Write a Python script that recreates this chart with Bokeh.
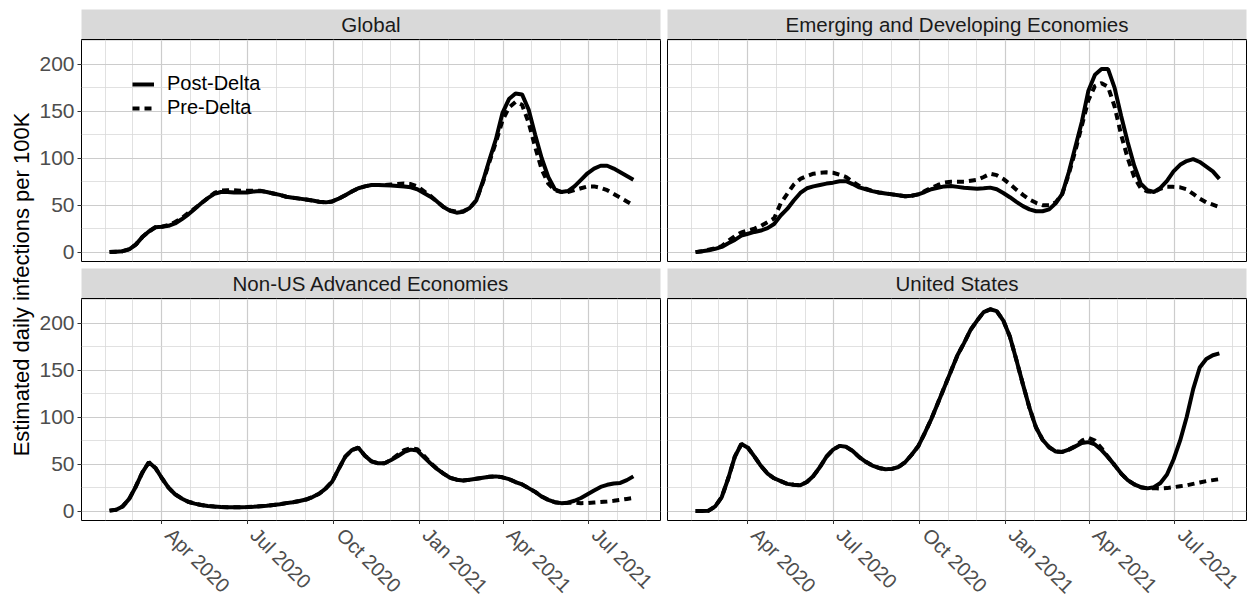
import math
import pandas as pd
from bokeh.plotting import figure
from bokeh.layouts import row, column
from bokeh.models import (Range1d, LinearAxis, Grid, FixedTicker,
                          Label, Legend, LegendItem, ColumnDataSource)
from bokeh.embed import file_html
from bokeh.resources import INLINE

# ---------------- data ----------------
dates = pd.date_range("2020-02-05", periods=81, freq="7D")

panel_titles = ["Global", "Emerging and Developing Economies",
                "Non-US Advanced Economies", "United States"]
series_labels = ["Post-Delta", "Pre-Delta"]

global_post = [0, 0.5, 1, 3, 8, 16, 22, 26.5, 27, 28,
               30.5, 35, 40, 46, 52, 57.5, 62, 64, 64, 63.6,
               63.5, 63.6, 64.5, 65, 64, 62.5, 61, 59, 58, 57,
               56, 55, 53.6, 53, 54, 57, 60.5, 64.5, 68, 70,
               71.5, 71.5, 71.3, 71, 70.5, 70, 69, 67, 63, 59,
               54, 48, 44, 42, 43, 47, 55, 75, 98, 120,
               148, 163, 169, 168, 152, 125, 100, 80, 67, 64,
               65, 70, 77, 84, 89, 92, 92, 89, 85, 81, 77]
global_pre = [0, 0.5, 1, 3, 8, 16, 22, 26.5, 27, 29,
              32, 36, 41.5, 46.5, 52, 57.5, 63, 65.5, 66, 66,
              65.5, 65.5, 65.5, 65.5, 64, 62.5, 61, 59, 58, 57,
              56, 55, 53.6, 53, 54, 57, 60.5, 64.5, 68, 70,
              71.5, 71.5, 71.5, 72, 72.5, 73, 72.5, 70, 65, 60,
              54, 48, 44.5, 43, 43.5, 47, 55, 74, 96, 117,
              140, 154, 160, 157, 138, 112, 88, 73, 66, 64,
              64, 66, 68, 70, 70, 68.5, 66, 62, 58, 54, 50]

em_post = [0, 1, 2, 3.5, 5.5, 9.5, 13, 17.5, 19.6, 21.5,
           23, 25.5, 30, 39, 46, 55, 63, 68, 70, 71.5,
           73, 74, 75.5, 75.5, 72.5, 69, 67, 65, 63.5, 62.5,
           61.5, 60.5, 59.5, 60, 61.5, 64, 67, 68.5, 70, 70.5,
           69.5, 68.5, 68, 67.5, 68, 68.7, 67, 63, 58.5, 53.5,
           49, 45.5, 43.5, 43.5, 45.5, 52, 62, 85, 112, 139,
           172, 189, 195, 195, 175, 145, 117, 92, 73, 66,
           64, 68.5, 76, 86, 93, 97, 99, 96, 91, 86, 78]
em_pre = [0, 1, 2.5, 4, 6.5, 12, 17, 21, 23, 25,
          28, 32, 36, 52, 62, 72, 78, 81, 83.5, 84.5,
          85, 84.5, 82.5, 80, 75, 70.5, 67.5, 65, 63.5, 62.5,
          61.5, 60.5, 59.5, 60, 61.5, 65, 68.5, 71.5, 74, 75,
          75, 75, 76, 77, 80, 83.5, 82, 78, 72.5, 66.5,
          61, 56, 52.5, 50, 50, 53, 62, 83, 108, 135,
          162, 177, 180, 176, 155, 125, 100, 80, 68, 64.5,
          64, 67.5, 69.5, 69.5, 69, 67, 62, 57, 53, 50.5, 48]

nonus_post = [0.5, 1.5, 5, 13, 26, 41, 52, 46, 35, 25,
              18, 13.5, 10, 8, 6.5, 5.5, 4.8, 4.3, 4, 4,
              4, 4.3, 4.7, 5.2, 5.7, 6.5, 7.3, 8.5, 9.5, 10.8,
              12.3, 15, 18.5, 24, 31.5, 45, 58, 65, 67.5, 59,
              53, 51, 51, 54.5, 58.5, 63, 65.5, 64.5, 57.5, 51,
              45, 40, 35.5, 33.5, 32.7, 33.5, 34.5, 35.5, 36.5, 37,
              36, 34, 31, 28.5, 24.5, 20.5, 15.5, 12, 9.5, 8.5,
              9, 11, 14, 18, 22, 25.8, 28, 29.5, 30, 33, 37]
nonus_pre = [0.5, 1.5, 5, 13, 26, 41, 52, 46, 35, 25,
             18, 13.5, 10, 8, 6.5, 5.5, 4.8, 4.3, 4, 4,
             4, 4.3, 4.7, 5.2, 5.7, 6.5, 7.3, 8.5, 9.5, 10.8,
             12.3, 15, 18.5, 24, 31.5, 45, 58, 65, 67.5, 59,
             53, 51, 51, 54.5, 60, 65, 67, 66, 59, 51.5,
             45, 40, 35.5, 33.5, 32.7, 33.5, 34.5, 35.5, 36.5, 37,
             36, 34, 31, 28.5, 24.5, 20.5, 15.5, 12, 9.5, 8.5,
             9, 9, 8.5, 8.7, 9.2, 9.7, 10.3, 11, 12, 13, 14]

us_post = [0, 0, 0.5, 5, 15, 35, 58, 71.5, 67.5, 58,
           48, 40, 35, 32, 29, 28, 27.5, 31, 37.5, 47,
           58, 65.5, 69.5, 68.5, 64, 57.5, 52.5, 48.5, 46, 44.6,
           45, 47, 52, 60, 69, 83, 98, 115, 132, 149,
           166, 179, 193, 203, 212, 215, 213, 203, 186, 161,
           135, 110, 89, 76, 68, 63.5, 63, 65.5, 69, 72.5,
           73.5, 71, 65, 57.5, 49, 40, 33, 28.5, 25.5, 24.2,
           25.5, 30, 39, 55, 75, 100, 130, 153, 162, 166, 168]
us_pre = [0, 0, 0.5, 5, 15, 35, 58, 71.5, 67.5, 58,
          48, 40, 35, 32, 29, 28, 27.5, 31, 37.5, 47,
          58, 65.5, 69.5, 68.5, 64, 57.5, 52.5, 48.5, 46, 44.6,
          45, 47, 52, 60, 69, 83, 98, 115, 132, 149,
          166, 179, 193, 203, 212, 215, 213, 203, 186, 161,
          135, 110, 89, 76, 68, 63.5, 63, 65.5, 69, 75,
          78, 75, 67, 57.5, 49, 40, 33, 28.5, 25.5, 24.2,
          24.5, 24, 24.5, 25.5, 26.5, 27.5, 29, 30.5, 32, 33, 34]

x_major_dates = ["2020-04-01", "2020-07-01", "2020-10-01",
                 "2021-01-01", "2021-04-01", "2021-07-01"]
x_major_labels = ["Apr 2020", "Jul 2020", "Oct 2020",
                  "Jan 2021", "Apr 2021", "Jul 2021"]
x_minor_dates = ["2020-01-01", "2020-02-01", "2020-03-01", "2020-05-01", "2020-06-01",
                 "2020-08-01", "2020-09-01", "2020-11-01", "2020-12-01",
                 "2021-02-01", "2021-03-01", "2021-05-01", "2021-06-01",
                 "2021-08-01", "2021-09-01"]
y_major = [0, 50, 100, 150, 200]
y_minor = [25, 75, 125, 175, 225]

# ---------------- style ----------------
FONT = "Liberation Sans"
X_START = pd.Timestamp("2020-01-06")
X_END = pd.Timestamp("2021-09-16")
Y_START, Y_END = -10, 226.5
FRAME_W, FRAME_H = 579, 222
LEFT_B = 44
TICK = 4
XLAB_H = 72
LINE_W = 4


def ms(d):
    return pd.Timestamp(d).value / 1e6


x_major_ms = [ms(d) for d in x_major_dates]
x_minor_ms = [ms(d) for d in x_minor_dates]


def bare(**kw):
    f = figure(x_axis_location=None, y_axis_location=None,
               toolbar_location=None, output_backend="svg", **kw)
    f.center = []          # drop default grids
    return f


def make_strip(title, left, top):
    s = bare(frame_width=FRAME_W, frame_height=30,
             x_range=Range1d(0, 1), y_range=Range1d(0, 1),
             min_border_left=LEFT_B if left else 4, min_border_right=3 if left else 1,
             min_border_top=9 if top else 0, min_border_bottom=0,
             background_fill_color="#d9d9d9", border_fill_color="white",
             outline_line_color=None)
    s.add_layout(Label(x=0.5, y=0.5, text=title, text_align="center",
                       text_baseline="middle", text_font=FONT,
                       text_font_size="20.5px", text_color="#1a1a1a"))
    return s


def make_xlabels(left):
    """Rotated date labels under a bottom panel (same x scale as the panel)."""
    f = bare(frame_width=FRAME_W, frame_height=XLAB_H,
             x_range=Range1d(X_START, X_END), y_range=Range1d(XLAB_H, 0),
             min_border_left=LEFT_B if left else 4, min_border_right=3 if left else 1,
             min_border_top=0, min_border_bottom=0,
             background_fill_color="white", border_fill_color="white",
             outline_line_color=None)
    for d, lab in zip(x_major_dates, x_major_labels):
        f.add_layout(Label(x=ms(d), y=11 - TICK, x_offset=7,
                           text=lab, angle=-math.pi / 4,
                           text_align="left", text_baseline="middle",
                           text_font=FONT, text_font_size="20px",
                           text_color="#4d4d4d"))
    return f


def make_panel(post, pre, left, bottom, legend=False):
    p = bare(frame_width=FRAME_W, frame_height=FRAME_H,
             x_range=Range1d(X_START, X_END), y_range=Range1d(Y_START, Y_END),
             min_border_left=LEFT_B if left else 4, min_border_right=3 if left else 1,
             min_border_top=0, min_border_bottom=TICK if bottom else 7,
             background_fill_color="white", border_fill_color="white",
             outline_line_color="black", outline_line_width=1)
    xt = FixedTicker(ticks=x_major_ms, minor_ticks=x_minor_ms)
    yt = FixedTicker(ticks=y_major, minor_ticks=y_minor)
    for dim, tk in ((0, xt), (1, yt)):
        p.add_layout(Grid(dimension=dim, ticker=tk,
                          grid_line_color="#cccccc", grid_line_width=1.2,
                          minor_grid_line_color="#d9d9d9", minor_grid_line_width=0.8))
    if left:
        ya = LinearAxis(ticker=yt, axis_line_color=None,
                        major_tick_out=TICK, major_tick_in=0,
                        minor_tick_out=0, minor_tick_in=0,
                        major_tick_line_color="#333333",
                        major_label_standoff=3,
                        major_label_text_font=FONT,
                        major_label_text_font_size="21px",
                        major_label_text_color="#4d4d4d")
        p.add_layout(ya, "left")
    if bottom:
        # tick marks only; the date labels are drawn rotated just below
        xa = LinearAxis(ticker=xt, axis_line_color=None,
                        major_tick_out=TICK, major_tick_in=0,
                        minor_tick_out=0, minor_tick_in=0,
                        major_tick_line_color="#333333",
                        major_label_standoff=0,
                        major_label_text_font_size="0px",
                        major_label_text_color=None)
        p.add_layout(xa, "below")

    src = ColumnDataSource(dict(date=dates, post=post, pre=pre))
    r_post = p.line("date", "post", source=src, line_color="black", line_width=LINE_W)
    r_pre = p.line("date", "pre", source=src, line_color="black", line_width=LINE_W,
                   line_dash="7 5")
    if legend:
        lg = Legend(items=[LegendItem(label=series_labels[0], renderers=[r_post]),
                           LegendItem(label=series_labels[1], renderers=[r_pre])],
                    location=(51, 142), orientation="vertical",
                    background_fill_alpha=0, border_line_color=None,
                    padding=0, margin=0, spacing=1,
                    glyph_width=22, glyph_height=20, label_height=20,
                    label_standoff=13, label_text_font=FONT,
                    label_text_font_size="20px", label_text_color="black")
        p.add_layout(lg, "center")
    return p


strip_tl = make_strip(panel_titles[0], True, True)
strip_tr = make_strip(panel_titles[1], False, True)
strip_bl = make_strip(panel_titles[2], True, False)
strip_br = make_strip(panel_titles[3], False, False)

panel_tl = make_panel(global_post, global_pre, True, False, legend=True)
panel_tr = make_panel(em_post, em_pre, False, False)
panel_bl = make_panel(nonus_post, nonus_pre, True, True)
panel_br = make_panel(us_post, us_pre, False, True)

xlab_bl = make_xlabels(True)
xlab_br = make_xlabels(False)

ytitle = bare(width=36, height=520, x_range=Range1d(0, 1), y_range=Range1d(0, 1),
              min_border=0, outline_line_color=None,
              background_fill_color="white", border_fill_color="white")
ytitle.add_layout(Label(x=21, y=236, x_units="screen", y_units="screen",
                        text="Estimated daily infections per 100K",
                        angle=math.pi / 2, text_align="center", text_baseline="middle",
                        text_font=FONT, text_font_size="22px", text_color="black"))

layout = row(ytitle,
             column(strip_tl, panel_tl, strip_bl, panel_bl, xlab_bl),
             column(strip_tr, panel_tr, strip_br, panel_br, xlab_br))

open("out.html", "w").write(file_html(layout, INLINE))
